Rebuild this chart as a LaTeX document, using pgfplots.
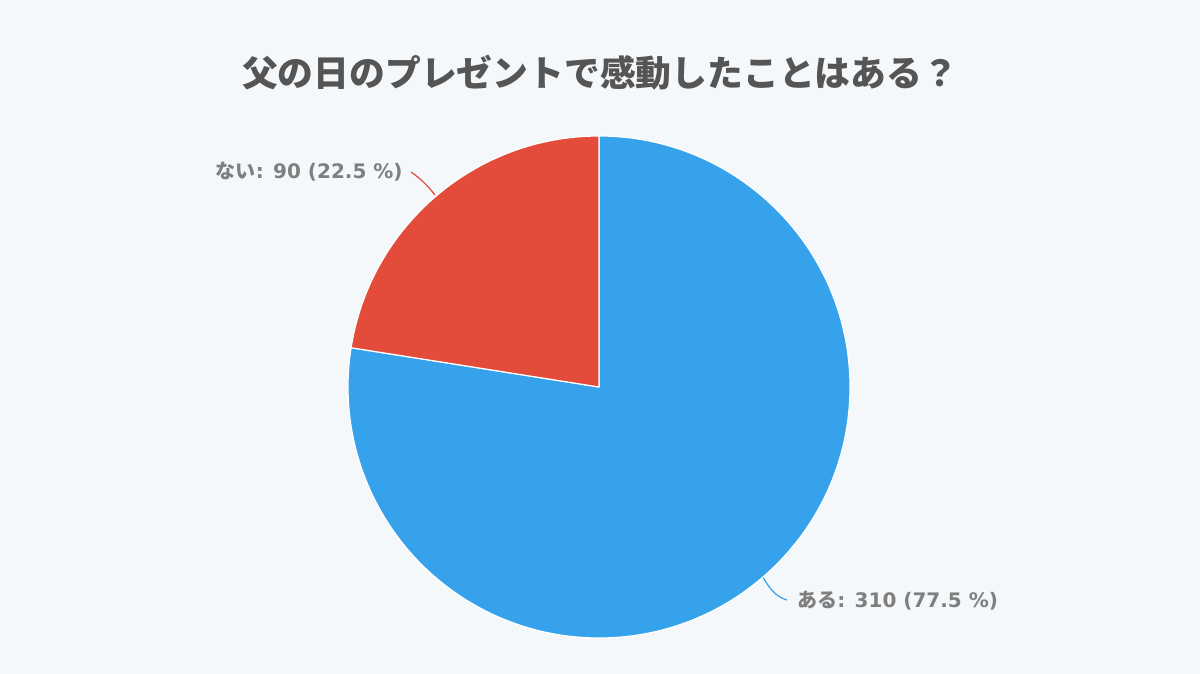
\documentclass[border=0pt]{standalone}
\usepackage{pgfplots}
\pgfplotsset{compat=1.18}
\usepackage{pgfplotstable}
\usepackage{fontspec}
\setmainfont{DejaVu Sans}
\newfontfamily\jp{Noto Sans CJK JP}

\definecolor{bg}{HTML}{F5F8FA}
\definecolor{sliceblue}{HTML}{36A2EB}
\definecolor{slicered}{HTML}{E34B3B}
\definecolor{labelgray}{HTML}{7F7F7F}
\definecolor{titlegray}{HTML}{555555}

% answers out of 400: value, and how many come before it (clockwise from 12 o'clock)
\pgfplotstableread{
x y value before
599 287 310 0
}\ari
\pgfplotstableread{
x y value before
599 287 90 310
}\nai

\pgfdeclareplotmark{nothing}{}

\pgfplotsset{
  slice/.style={scatter, only marks, mark=nothing,
    visualization depends on={\thisrow{value} \as \val},
    visualization depends on={\thisrow{before} \as \bef},
    scatter/@pre marker code/.code={
      \pgfmathsetmacro\sa{90-\bef*0.9}
      \pgfmathsetmacro\da{-\val*0.9}
      \fill[#1, draw=white, line width=0.6pt, line join=round]
        (0,0) -- (\sa:125.5pt) arc[start angle=\sa, delta angle=\da, radius=125.5pt] -- cycle;
    },
    scatter/@post marker code/.code={}},
}

\begin{document}
\begin{tikzpicture}
\fill[bg] (0,0) rectangle (600pt,337pt);
\begin{axis}[
  x=0.5pt, y=0.5pt,
  xmin=0, xmax=1200, ymin=0, ymax=674,
  scale only axis, hide axis, clip=false,
]
\addplot[slice=sliceblue] table {\ari};
\addplot[slice=slicered] table {\nai};

% leader lines
\draw[slicered, line width=0.6pt] (axis cs:411,502) .. controls (axis cs:420,496) and (axis cs:428,488) .. (axis cs:435,479);
\draw[sliceblue, line width=0.6pt] (axis cs:763,97) .. controls (axis cs:769,86) and (axis cs:776,77) .. (axis cs:787,74);

% labels
\node[anchor=east, text=labelgray, font=\fontsize{10pt}{12pt}\selectfont\bfseries, inner sep=0pt]
  at (axis cs:403,502) {{\jp ない}: 90 (22.5 \%)};
\node[anchor=west, text=labelgray, font=\fontsize{10pt}{12pt}\selectfont\bfseries, inner sep=0pt]
  at (axis cs:797,73) {{\jp ある}: 310 (77.5 \%)};

% title
\node[text=titlegray, font=\jp\fontsize{17.9pt}{20pt}\selectfont\bfseries, inner sep=0pt]
  at (axis cs:600,601) {父の日のプレゼントで感動したことはある？};
\end{axis}
\end{tikzpicture}
\end{document}
